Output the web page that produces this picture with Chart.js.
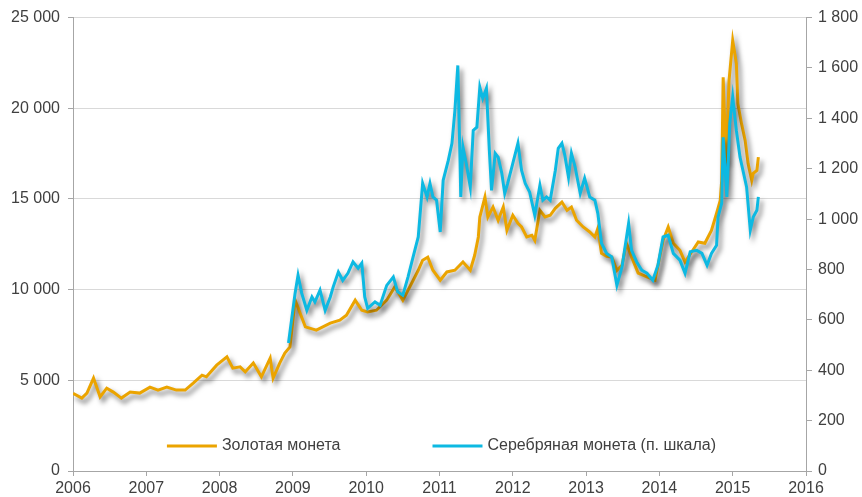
<!DOCTYPE html>
<html>
<head>
<meta charset="utf-8">
<script src="https://cdn.jsdelivr.net/npm/chart.js@4.4.1/dist/chart.umd.min.js"></script>
<style>
  html, body { margin: 0; padding: 0; background: #fff; }
  canvas { display: block; }
</style>
</head>
<body>
<canvas id="coins" width="862" height="497"></canvas>
<script>
// Золотая монета, руб. (левая шкала)
const goldDates = [2006.00, 2006.12, 2006.19, 2006.28, 2006.37, 2006.46, 2006.55, 2006.66, 2006.78, 2006.91,
    2007.05, 2007.16, 2007.28, 2007.41, 2007.53, 2007.64, 2007.76, 2007.82, 2007.96, 2008.10,
    2008.18, 2008.28, 2008.35, 2008.46, 2008.57, 2008.69, 2008.73, 2008.82, 2008.89, 2008.96,
    2009.03, 2009.17, 2009.32, 2009.51, 2009.64, 2009.73, 2009.85, 2009.94, 2010.02, 2010.14,
    2010.28, 2010.39, 2010.50, 2010.62, 2010.71, 2010.77, 2010.84, 2010.91, 2011.01, 2011.10,
    2011.21, 2011.32, 2011.42, 2011.48, 2011.53, 2011.55, 2011.62, 2011.66, 2011.73, 2011.80,
    2011.87, 2011.92, 2012.00, 2012.07, 2012.12, 2012.19, 2012.26, 2012.30, 2012.37, 2012.44,
    2012.51, 2012.58, 2012.67, 2012.74, 2012.80, 2012.87, 2012.96, 2013.05, 2013.12, 2013.16,
    2013.21, 2013.28, 2013.35, 2013.42, 2013.49, 2013.55, 2013.62, 2013.71, 2013.83, 2013.94,
    2014.05, 2014.12, 2014.19, 2014.28, 2014.35, 2014.44, 2014.53, 2014.62, 2014.71, 2014.78,
    2014.83, 2014.85, 2014.87, 2014.91, 2014.95, 2015.00, 2015.05, 2015.07, 2015.12, 2015.17,
    2015.21, 2015.26, 2015.28, 2015.33, 2015.35];
const goldValues = [4280, 4020, 4295, 5120, 4090, 4570, 4350, 4020, 4350, 4295,
    4625, 4460, 4625, 4460, 4460, 4845, 5285, 5195, 5835, 6295,
    5670, 5745, 5470, 5950, 5195, 6225, 5120, 5950, 6500, 6845,
    9420, 7950, 7765, 8150, 8315, 8590, 9420, 8865, 8775, 8865,
    9420, 10150, 9420, 10355, 11070, 11620, 11785, 11070, 10520, 10975,
    11070, 11525, 11070, 11895, 12905, 14005, 15105, 14005, 14555, 13825,
    14555, 13270, 14100, 13655, 13455, 12905, 13000, 12720, 14375, 14005,
    14100, 14485, 14830, 14375, 14555, 13825, 13455, 13180, 12905, 13380,
    12005, 11840, 11800, 11070, 11345, 12555, 11800, 10905, 10700, 10520,
    12720, 13455, 12555, 12170, 11525, 12075, 12630, 12555, 13270, 14210,
    14925, 16025, 21715, 16960, 21530, 23735, 22470, 20265, 19165, 18230,
    16960, 16025, 16410, 16575, 17310];

// Серебряная монета, руб. (правая шкала)
const silverDates = [2008.94, 2009.03, 2009.07, 2009.12, 2009.19, 2009.26, 2009.30, 2009.37, 2009.44, 2009.51,
    2009.55, 2009.62, 2009.68, 2009.75, 2009.82, 2009.89, 2009.94, 2009.98, 2010.02, 2010.12,
    2010.19, 2010.28, 2010.37, 2010.43, 2010.50, 2010.57, 2010.64, 2010.71, 2010.77, 2010.83,
    2010.87, 2010.91, 2010.96, 2011.01, 2011.05, 2011.12, 2011.17, 2011.21, 2011.25, 2011.28,
    2011.29, 2011.32, 2011.37, 2011.42, 2011.46, 2011.51, 2011.55, 2011.59, 2011.64, 2011.68,
    2011.71, 2011.76, 2011.80, 2011.85, 2011.89, 2011.93, 2012.00, 2012.07, 2012.12, 2012.17,
    2012.23, 2012.30, 2012.37, 2012.41, 2012.46, 2012.51, 2012.58, 2012.62, 2012.67, 2012.71,
    2012.76, 2012.80, 2012.85, 2012.92, 2012.98, 2013.05, 2013.12, 2013.16, 2013.21, 2013.28,
    2013.35, 2013.42, 2013.49, 2013.58, 2013.62, 2013.69, 2013.76, 2013.83, 2013.91, 2013.98,
    2014.05, 2014.12, 2014.19, 2014.28, 2014.35, 2014.42, 2014.51, 2014.58, 2014.65, 2014.71,
    2014.78, 2014.80, 2014.85, 2014.87, 2014.92, 2014.96, 2015.00, 2015.05, 2015.10, 2015.14,
    2015.19, 2015.24, 2015.28, 2015.33, 2015.35];
const silverValues = [508, 706, 777, 706, 638, 691, 671, 718, 638, 691,
    731, 790, 757, 785, 830, 805, 825, 691, 646, 671,
    658, 737, 770, 711, 698, 770, 850, 929, 1142, 1088,
    1142, 1088, 1075, 949, 1154, 1233, 1301, 1431, 1610, 1233,
    1088, 1286, 1213, 1127, 1352, 1365, 1524, 1479, 1519, 1273,
    1114, 1261, 1246, 1182, 1102, 1142, 1221, 1301, 1193, 1142,
    1107, 1015, 1134, 1075, 1088, 1075, 1193, 1281, 1301, 1253,
    1167, 1261, 1207, 1102, 1162, 1088, 1075, 1023, 904, 864,
    850, 737, 810, 983, 876, 830, 797, 785, 757, 817,
    929, 936, 864, 837, 785, 870, 876, 864, 817, 864,
    896, 1008, 1063, 1325, 1088, 1380, 1484, 1352, 1246, 1193,
    1127, 956, 1008, 1035, 1088];

const legendLabels = ['Золотая монета', 'Серебряная монета (п. шкала)'];
const goldColor = '#EBA400';
const silverColor = '#0DB9E2';
const textColor = '#404040';
const fontFamily = '"Liberation Sans", Arial, sans-serif';

const toPoints = (xs, ys) => xs.map((x, i) => ({ x: x, y: ys[i] }));
const spaced = (v) => String(v).replace(/\B(?=(\d{3})+(?!\d))/g, ' ');

// drop shadow under the lines: wrap the line element's draw so the shadow is set right before stroking
const lineShadow = {
    id: 'lineShadow',
    afterDatasetsUpdate(chart) {
        chart.getSortedVisibleDatasetMetas().forEach(meta => {
            const line = meta.dataset;
            if (!line || line._shadowed) return;
            const draw = line.draw;
            line.draw = function (ctx, ...rest) {
                ctx.save();
                ctx.shadowColor = 'rgba(0, 0, 0, 0.5)';
                ctx.shadowBlur = 5;
                ctx.shadowOffsetX = 3;
                ctx.shadowOffsetY = 4;
                draw.call(this, ctx, ...rest);
                ctx.restore();
            };
            line._shadowed = true;
        });
    }
};

// legend sits inside the plot, near the bottom
const innerLegend = {
    id: 'innerLegend',
    afterDraw(chart) {
        const ctx = chart.ctx;
        const area = chart.chartArea;
        const colors = [goldColor, silverColor];
        const lineLen = 50, gap = 5, itemGap = 92;
        ctx.save();
        ctx.font = '16px ' + fontFamily;
        const widths = legendLabels.map(t => lineLen + gap + ctx.measureText(t).width);
        const total = widths[0] + itemGap + widths[1];
        let x = (area.left + area.right) / 2 - total / 2 + 2;
        const y = area.bottom - 25;
        legendLabels.forEach((t, i) => {
            ctx.strokeStyle = colors[i];
            ctx.lineWidth = 3;
            ctx.beginPath();
            ctx.moveTo(x, y);
            ctx.lineTo(x + lineLen, y);
            ctx.stroke();
            ctx.fillStyle = textColor;
            ctx.textBaseline = 'middle';
            ctx.textAlign = 'left';
            ctx.fillText(t, x + lineLen + gap, y);
            x += widths[i] + itemGap;
        });
        ctx.restore();
    }
};

new Chart(document.getElementById('coins'), {
    type: 'line',
    data: {
        datasets: [
            {
                label: legendLabels[1],
                data: toPoints(silverDates, silverValues),
                borderColor: silverColor,
                borderWidth: 3,
                pointRadius: 0,
                tension: 0,
                yAxisID: 'y1',
                order: 0
            },
            {
                label: legendLabels[0],
                data: toPoints(goldDates, goldValues),
                borderColor: goldColor,
                borderWidth: 3,
                pointRadius: 0,
                tension: 0,
                yAxisID: 'y',
                order: 1
            }
        ]
    },
    options: {
        responsive: false,
        animation: false,
        layout: { padding: { top: 17, left: 0, right: 0, bottom: 0 } },
        plugins: {
            legend: { display: false },
            tooltip: { enabled: false }
        },
        scales: {
            x: {
                type: 'linear',
                min: 2006,
                max: 2016,
                ticks: {
                    stepSize: 1,
                    color: textColor,
                    font: { size: 16, family: fontFamily },
                    padding: 3,
                    maxRotation: 0,
                    callback: (v) => String(v)
                },
                grid: { drawOnChartArea: false, tickLength: 5, color: '#a6a6a6' },
                border: { color: '#a6a6a6' },
                afterFit: (s) => { s.height = 26; }
            },
            y: {
                position: 'left',
                min: 0,
                max: 25000,
                ticks: {
                    stepSize: 5000,
                    color: textColor,
                    font: { size: 16, family: fontFamily },
                    padding: 8,
                    callback: (v) => spaced(v)
                },
                grid: { color: '#d9d9d9', tickColor: '#a6a6a6', tickLength: 5 },
                border: { color: '#a6a6a6' },
                afterFit: (s) => { s.width = 73; }
            },
            y1: {
                position: 'right',
                min: 0,
                max: 1800,
                ticks: {
                    stepSize: 200,
                    color: textColor,
                    font: { size: 16, family: fontFamily },
                    padding: 6,
                    callback: (v) => spaced(v)
                },
                grid: { drawOnChartArea: false, color: '#a6a6a6', tickLength: 6 },
                border: { color: '#a6a6a6' },
                afterFit: (s) => { s.width = 56; }
            }
        }
    },
    plugins: [lineShadow, innerLegend]
});
</script>
</body>
</html>
